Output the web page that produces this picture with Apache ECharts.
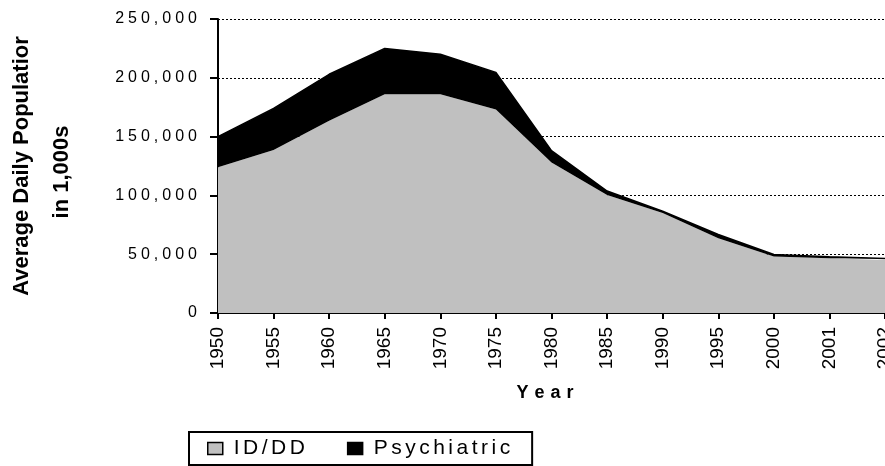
<!DOCTYPE html>
<html>
<head>
<meta charset="utf-8">
<script src="https://cdn.jsdelivr.net/npm/echarts@6/dist/echarts.min.js"></script>
<style>
  html, body { margin: 0; padding: 0; background: #fff; }
  #main { width: 885px; height: 466px; }
</style>
</head>
<body>
<div id="main"></div>
<script>
// years on the x axis
var years = ['1950', '1955', '1960', '1965', '1970', '1975', '1980', '1985', '1990', '1995', '2000', '2001', '2002'];
// average daily population, ID/DD institutions
var idddValues = [124000, 138600, 163500, 186000, 186000, 173000, 128000, 100300, 85000, 63500, 48000, 46500, 45000];
// psychiatric, stacked on top of ID/DD
var psychValues = [26000, 35400, 39500, 39000, 34000, 31600, 10000, 3400, 1500, 3200, 1700, 1300, 1300];
var yTicks = [0, 50000, 100000, 150000, 200000, 250000];

var FONT = "'Liberation Sans', Arial, sans-serif";

// the original has wide letter spacing, fake it with thin unicode spaces
function spaced(str, sp) {
  return str.split('').join(sp);
}
function thousands(v) {
  return String(v).replace(/\B(?=(\d{3})+(?!\d))/g, ',');
}

var chart = echarts.init(document.getElementById('main'));

var legendIcon = { borderColor: '#000', borderWidth: 1.5 };

var option = {
  animation: false,
  backgroundColor: '#fff',
  grid: {
    left: 218,
    right: 0,
    top: 19,
    bottom: 153,
    outerBoundsMode: 'none'
  },
  legend: {
    left: 189,
    top: 432,
    orient: 'horizontal',
    padding: [6, 22, 6, 18],
    itemGap: 42,
    itemWidth: 15,
    itemHeight: 12,
    borderColor: '#000',
    borderWidth: 2,
    icon: 'rect',
    data: [
      { name: 'ID/DD', itemStyle: legendIcon },
      { name: 'Psychiatric', itemStyle: legendIcon }
    ],
    formatter: function (name) {
      return spaced(name, '\u2006');
    },
    textStyle: {
      color: '#000',
      fontFamily: FONT,
      fontSize: 21,
      padding: [0, 0, 0, 6]
    }
  },
  xAxis: {
    type: 'category',
    data: years,
    boundaryGap: false,
    axisLine: { lineStyle: { color: '#000', width: 2 } },
    axisTick: { alignWithLabel: true, length: 6, lineStyle: { color: '#000', width: 2 } },
    axisLabel: {
      rotate: 90,
      margin: 14,
      interval: 0,
      hideOverlap: false,
      color: '#000',
      fontFamily: FONT,
      fontSize: 19
    },
    splitLine: { show: false }
  },
  yAxis: {
    type: 'value',
    min: 0,
    max: 250000,
    interval: 50000,
    axisLine: { show: true, lineStyle: { color: '#000', width: 2 } },
    axisTick: { show: true, length: 8, lineStyle: { color: '#000', width: 2 } },
    axisLabel: {
      margin: 21,
      color: '#000',
      fontFamily: FONT,
      fontSize: 16,
      formatter: function (v) {
        if (yTicks.indexOf(v) < 0) return '';
        return spaced(thousands(v), '\u2005');
      }
    },
    splitLine: {
      show: true,
      lineStyle: { color: '#000', width: 1, type: [2, 2] }
    }
  },
  graphic: [
    {
      type: 'text',
      x: 22,
      y: 166,
      rotation: Math.PI / 2,
      style: {
        text: 'Average Daily Populatior',
        font: 'bold 22px ' + FONT,
        fill: '#000',
        textAlign: 'center',
        textVerticalAlign: 'middle'
      }
    },
    {
      type: 'text',
      x: 62,
      y: 172,
      rotation: Math.PI / 2,
      style: {
        text: 'in 1,000s',
        font: 'bold 22px ' + FONT,
        fill: '#000',
        textAlign: 'center',
        textVerticalAlign: 'middle'
      }
    },
    {
      type: 'text',
      x: 545,
      y: 393,
      style: {
        text: spaced('Year', '\u2004'),
        font: 'bold 18px ' + FONT,
        fill: '#000',
        textAlign: 'center',
        textVerticalAlign: 'middle'
      }
    }
  ],
  series: [
    {
      name: 'ID/DD',
      type: 'line',
      stack: 'pop',
      data: idddValues,
      symbol: 'none',
      lineStyle: { width: 0, color: '#c0c0c0' },
      itemStyle: { color: '#c0c0c0' },
      areaStyle: { color: '#c0c0c0', opacity: 1 }
    },
    {
      name: 'Psychiatric',
      type: 'line',
      stack: 'pop',
      data: psychValues,
      symbol: 'none',
      lineStyle: { width: 1.5, color: '#000' },
      itemStyle: { color: '#000' },
      areaStyle: { color: '#000', opacity: 1 }
    }
  ]
};

chart.setOption(option);
</script>
</body>
</html>
